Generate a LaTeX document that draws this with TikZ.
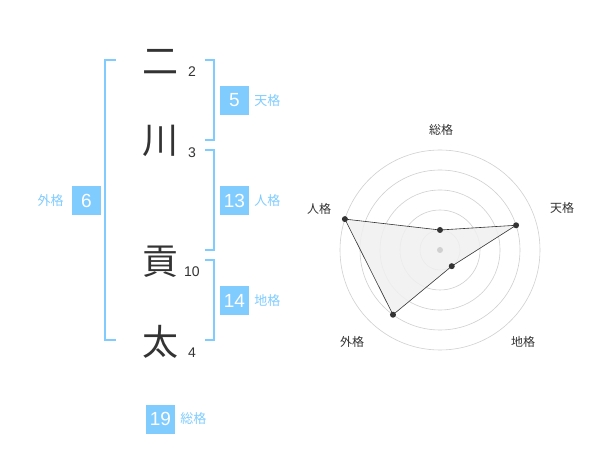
\documentclass[tikz,border=0pt]{standalone}
\usepackage{fontspec}
\setmainfont{Liberation Sans}
\newfontfamily\jpfont{Noto Sans CJK JP}
\usetikzlibrary{positioning, calc}
\definecolor{KakuBlue}{RGB}{128,204,255}
\definecolor{InkGray}{RGB}{51,51,51}
\definecolor{RingGray}{RGB}{208,208,208}
\definecolor{FillGray}{RGB}{240,240,240}

\begin{document}
\begin{tikzpicture}[
  x=1pt, y=-1pt,
  every node/.style={inner sep=0pt},
  kanji/.style={font=\jpfont\fontsize{36}{36}\selectfont, text=InkGray},
  strokes/.style={font=\fontsize{14}{14}\selectfont, text=InkGray, anchor=west},
  numbox/.style={fill=KakuBlue, text=white, minimum width=29pt, minimum height=29pt,
                 font=\fontsize{19}{19}\selectfont},
  kaku/.style={font=\jpfont\fontsize{13}{13}\selectfont, text=KakuBlue},
  bracket/.style={draw=KakuBlue, line width=1.5pt},
  ring/.style={draw=RingGray, line width=0.6pt},
  axislabel/.style={font=\jpfont\fontsize{12}{12}\selectfont, text=InkGray},
  dot/.style={circle, fill=InkGray, minimum size=6pt}
]
\useasboundingbox[fill=white] (0,0) rectangle (600,470);

% name
\node[kanji] (c1) at (160,62) {二};
\node[kanji] (c2) at (160,141) {川};
\node[kanji] (c3) at (160,262) {貢};
\node[kanji] (c4) at (160,342) {太};
\node[strokes] (s1) at (188,72) {2};
\node[strokes] (s2) at (188,153) {3};
\node[strokes] (s3) at (184,272) {10};
\node[strokes] (s4) at (188,353) {4};

% brackets
\draw[bracket] (116,60) -- (105,60) -- (105,340) -- (116,340);
\draw[bracket] (205,60) -- (214,60) -- (214,140) -- (205,140);
\draw[bracket] (205,150) -- (214,150) -- (214,250) -- (205,250);
\draw[bracket] (205,260) -- (214,260) -- (214,340) -- (205,340);

% scores
\node[numbox] (ten) at (234.5,100.5) {5};
\node[kaku, right=5pt of ten] {天格};
\node[numbox] (jin) at (234.5,200.5) {13};
\node[kaku, right=5pt of jin] {人格};
\node[numbox] (chi) at (234.5,300.5) {14};
\node[kaku, right=5pt of chi] {地格};
\node[numbox] (gai) at (86.5,200.5) {6};
\node[kaku, left=8pt of gai] {外格};
\node[numbox] (sou) at (160.5,419) {19};
\node[kaku, right=5pt of sou] {総格};

% radar
\coordinate (o) at (440,250);
\foreach \r in {20,40,60,80,100}
  \draw[ring] (o) circle[radius=\r];
\node[axislabel] (l-sou) at (441,130) {総格};
\node[axislabel] (l-ten) at (562,208) {天格};
\node[axislabel] (l-chi) at (523,342) {地格};
\node[axislabel] (l-gai) at (352,342) {外格};
\node[axislabel] (l-jin) at (319,209) {人格};
\coordinate (v-sou) at ($(o)+(-90:20)$);
\coordinate (v-ten) at ($(o)+(-18:80)$);
\coordinate (v-chi) at ($(o)+(54:20)$);
\coordinate (v-gai) at ($(o)+(126:80)$);
\coordinate (v-jin) at ($(o)+(198:100)$);
\fill[FillGray, opacity=0.85] (v-sou) -- (v-ten) -- (v-chi) -- (v-gai) -- (v-jin) -- cycle;
\draw[InkGray, line width=0.6pt] (v-sou) -- (v-ten) -- (v-chi) -- (v-gai) -- (v-jin) -- cycle;
\fill[RingGray] (o) circle[radius=3];
\foreach \v in {sou,ten,chi,gai,jin}
  \node[dot] at (v-\v) {};
\end{tikzpicture}
\end{document}
